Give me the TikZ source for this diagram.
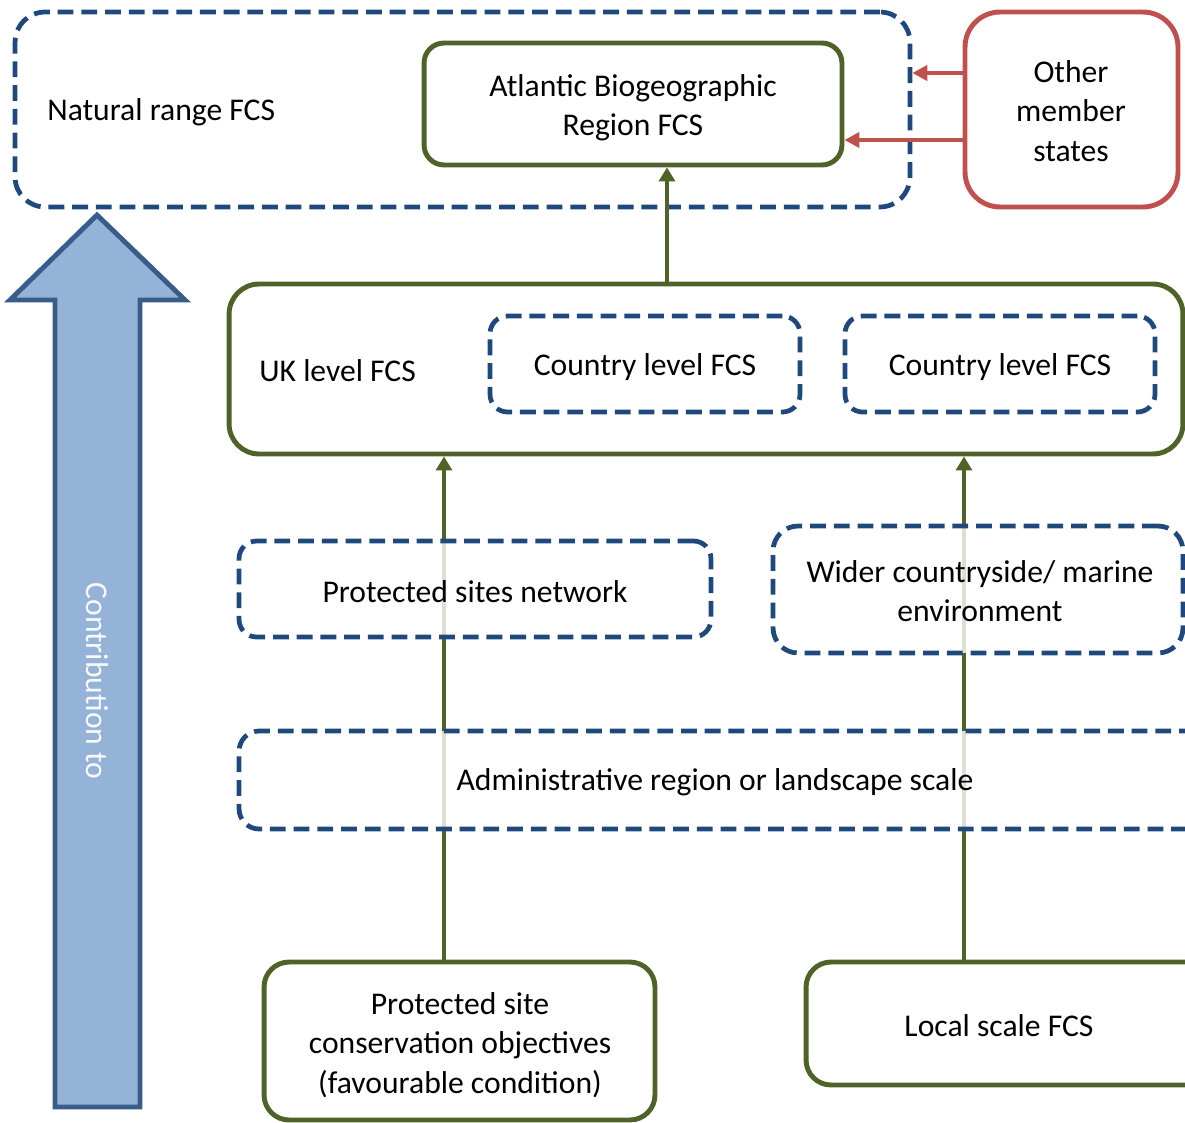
\documentclass[tikz,border=0pt]{standalone}
\usepackage{fontspec}
\setmainfont{Carlito}
\usetikzlibrary{arrows.meta}
\definecolor{dblue}{HTML}{1F497D}
\definecolor{dgreen}{HTML}{4F6228}
\definecolor{dred}{HTML}{C0504D}
\definecolor{afill}{HTML}{95B3D7}
\definecolor{aline}{HTML}{385D8A}
\begin{document}
\begin{tikzpicture}[x=0.02cm,y=-0.02cm,
  txt/.style={font=\fontsize{18}{22.4}\selectfont, align=center, text=black, inner sep=0pt},
  dbox/.style={draw=dblue, line width=2.7pt, dash pattern=on 9pt off 4.5pt, rounded corners=#1, inner sep=0pt},
  dbox/.default=0.35cm,
  gbox/.style={draw=dgreen, line width=2.8pt, rounded corners=#1, fill=white, inner sep=0pt},
  gbox/.default=0.5cm,
  rbox/.style={draw=dred, line width=2.8pt, rounded corners=0.7cm, fill=white, inner sep=0pt},
  veil/.style={fill=white, fill opacity=0.8},
  garrow/.style={draw=dgreen, line width=2.7pt, -{Triangle[length=0.28cm,width=0.32cm]}},
  rarrow/.style={draw=dred, line width=2.6pt, -{Triangle[length=0.3cm,width=0.3cm]}},
  bigarrow/.style={draw=aline, fill=afill, line width=2.8pt, line join=miter}
]
\useasboundingbox (0,0) rectangle (1185,1122);
\clip (0,0) rectangle (1185,1122);

% big contribution arrow
\draw[bigarrow] (55,1107) -- (55,300) -- (10,300) -- (97,215) -- (185,300) -- (140,300) -- (140,1107) -- cycle;
\node[txt, text=white!92!afill, rotate=-90] (contrib) at (97,681) {Contribution to};

% top row
\node[dbox=0.6cm, minimum width=17.9cm, minimum height=3.9cm] (nat) at (462.5,109.5) {};
\node[txt, anchor=west] (natt) at (47,112) {Natural range FCS};
\node[gbox=0.4cm, minimum width=8.36cm, minimum height=2.44cm] (atl) at (633,104) {};
\node[txt] (atlt) at (633,108) {Atlantic Biogeographic\\Region FCS};
\node[rbox, minimum width=4.26cm, minimum height=3.9cm] (oth) at (1071.5,109.5) {};
\node[txt] (otht) at (1071,111) {Other\\member\\states};

\coordinate (ry1) at (0,73);
\coordinate (ry2) at (0,140);
\draw[rarrow] (oth.west |- ry1) -- (nat.east |- ry1);
\draw[rarrow] (oth.west |- ry2) -- (atl.east |- ry2);

% UK level
\node[gbox=0.6cm, minimum width=19.08cm, minimum height=3.4cm] (uk) at (706,369) {};
\node[txt, anchor=west] (ukt) at (259,371) {UK level FCS};
\node[dbox=0.35cm, minimum width=6.2cm, minimum height=1.92cm] (c1) at (645,364) {};
\node[txt] (c1t) at (645,367) {Country level FCS};
\node[dbox=0.35cm, minimum width=6.2cm, minimum height=1.92cm] (c2) at (1000,364) {};
\node[txt] (c2t) at (1000,367) {Country level FCS};

\coordinate (ax0) at (667,0);
\draw[garrow] (uk.north -| ax0) -- (atl.south -| ax0);

% bottom boxes
\node[gbox=0.5cm, minimum width=7.82cm, minimum height=3.16cm] (pso) at (459.5,1041) {};
\node[txt] (psot) at (460,1045) {Protected site\\conservation objectives\\(favourable condition)};
\node[gbox=0.5cm, minimum width=8.18cm, minimum height=2.46cm] (loc) at (1010.5,1023.5) {};
\node[txt] (loct) at (999,1026) {Local scale FCS};

\coordinate (ax1) at (444,0);
\coordinate (ax2) at (964,0);
\draw[garrow] (pso.north -| ax1) -- (uk.south -| ax1);
\draw[garrow] (loc.north -| ax2) -- (uk.south -| ax2);

% intermediate dashed layers
\node[dbox=0.35cm, veil, minimum width=9.44cm, minimum height=1.92cm] (psn) at (475,589) {};
\node[txt] (psnt) at (475,592) {Protected sites network};
\node[dbox=0.5cm, veil, minimum width=8.2cm, minimum height=2.54cm] (wid) at (978,589.5) {};
\node[txt] (widt) at (980,591) {Wider countryside/ marine\\environment};
\node[dbox=0.4cm, veil, minimum width=19.52cm, minimum height=1.96cm] (adm) at (727,780) {};
\node[txt] (admt) at (715,782) {Administrative region or landscape scale};
\end{tikzpicture}
\end{document}
